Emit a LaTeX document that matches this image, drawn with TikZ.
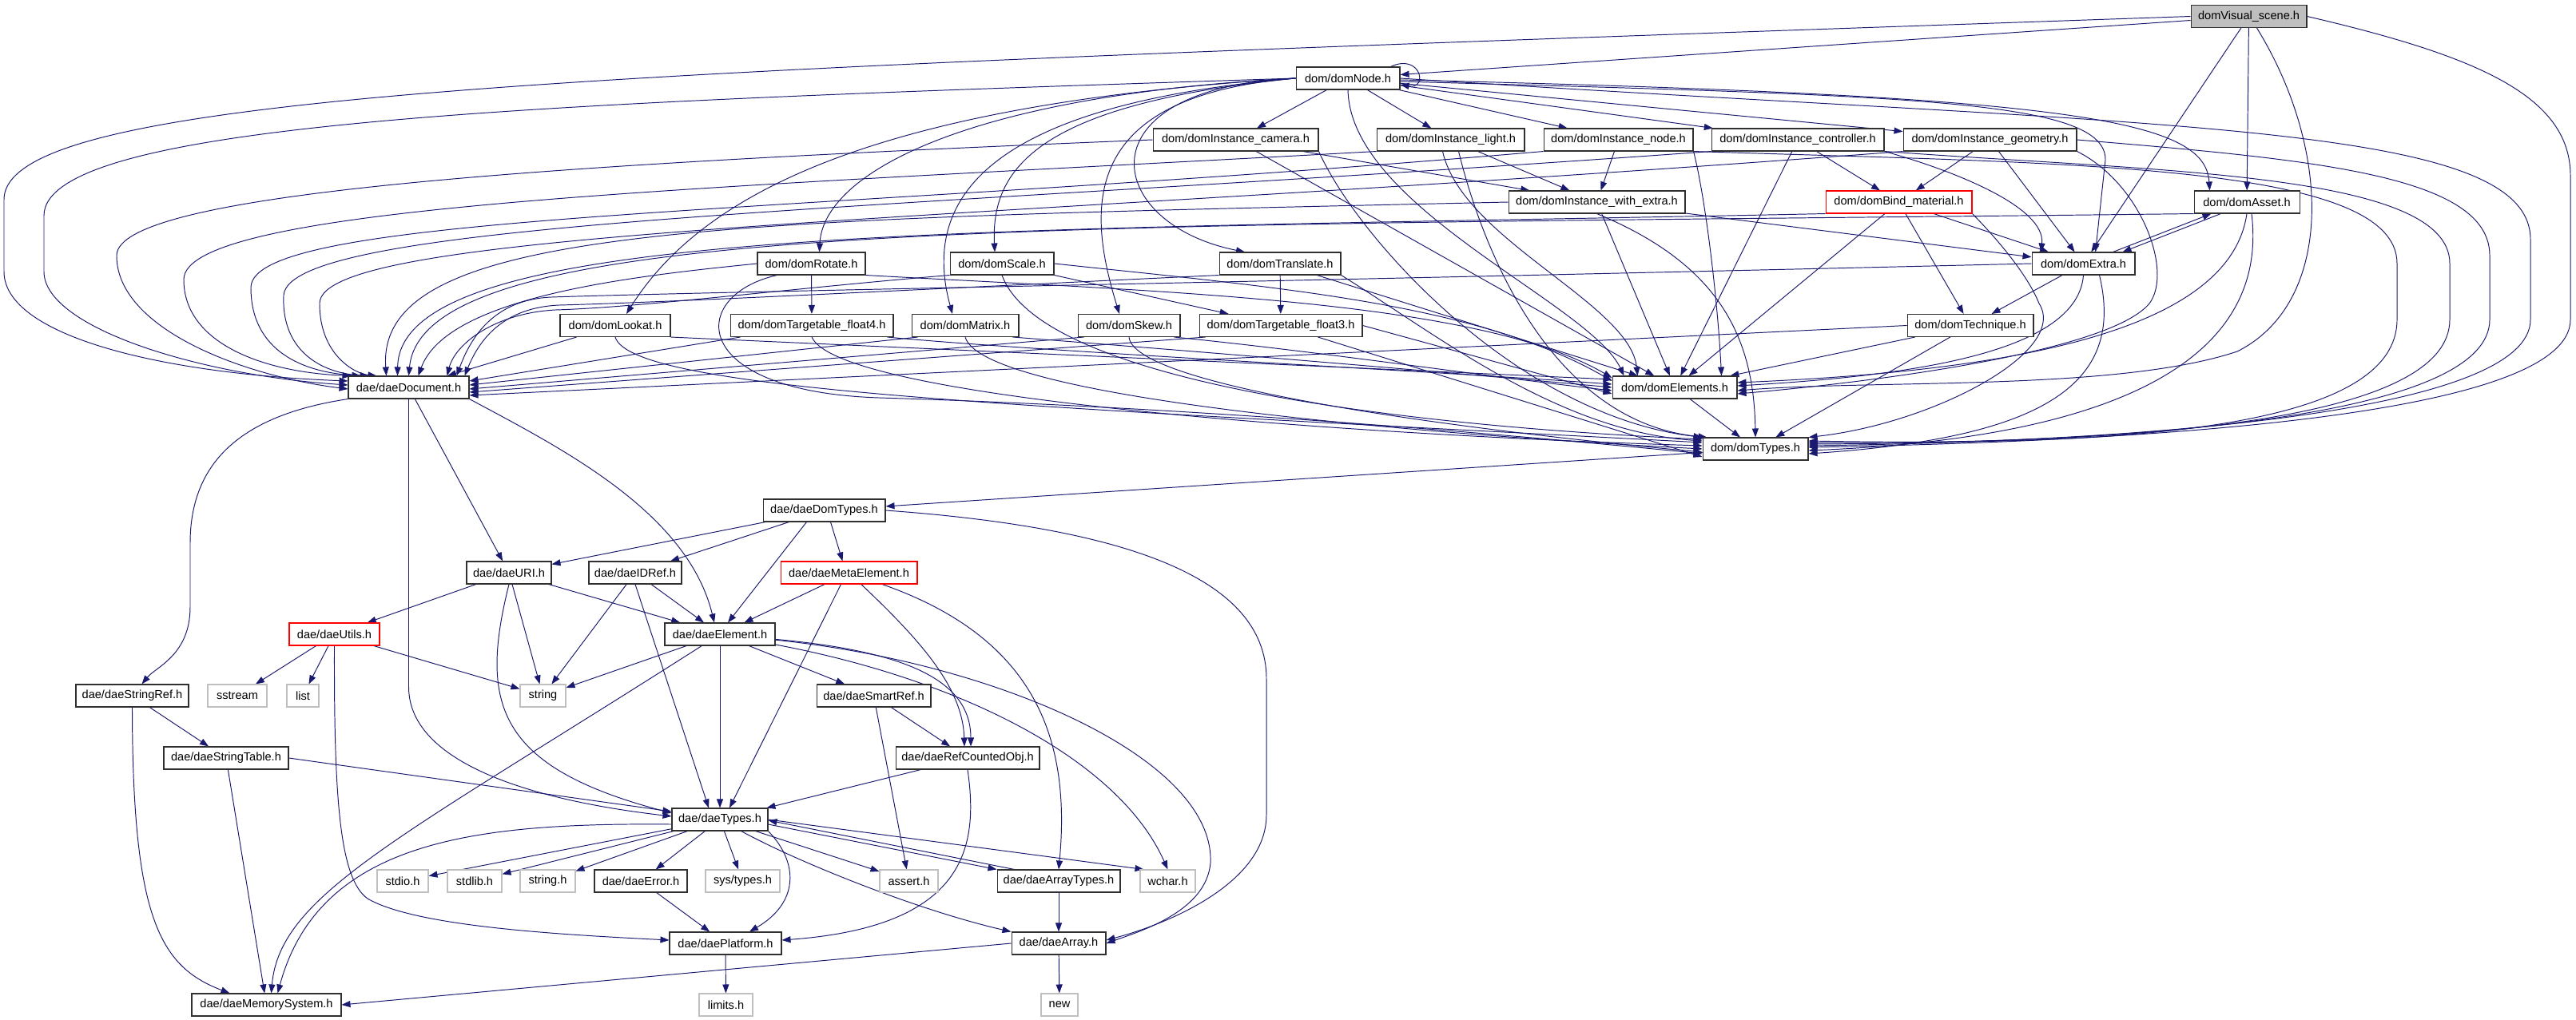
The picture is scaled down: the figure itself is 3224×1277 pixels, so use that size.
\documentclass[tikz,border=0pt]{standalone}
\usepackage{fontspec}
\setmainfont{Liberation Sans}
\usetikzlibrary{arrows.meta,calc}
\pgfdeclarelayer{back}
\pgfdeclarelayer{bg}
\pgfsetlayers{back,bg,main}
\definecolor{edgeblue}{HTML}{191970}
\definecolor{sysgray}{HTML}{BFBFBF}
\definecolor{vsfill}{HTML}{BFBFBF}
\definecolor{boxline}{HTML}{303030}
\begin{document}
\begin{tikzpicture}[x=0.02cm,y=-0.02cm,
  box/.style={draw=boxline,line width=0.6pt,fill=white,minimum height=0.56cm,inner sep=0pt,font=\fontsize{8.3}{10}\selectfont},
  redbox/.style={box,draw=red},
  sysbox/.style={box,draw=sysgray},
  edg/.style={draw=edgeblue,line width=0.55pt,-{Triangle[length=0.22cm,width=0.16cm]}}]
\useasboundingbox (0,0) rectangle (3224,1277);
\begin{pgfonlayer}{back}
\fill[white] (0,0) rectangle (3224,1277);
\end{pgfonlayer}
% ---------------- nodes ----------------
\node[box,fill=vsfill,minimum width=2.90cm] (VS) at (2814.5,20.5) {domVisual\_scene.h};
\node[box,minimum width=2.60cm] (Node) at (1687,98) {dom/domNode.h};
\node[box,minimum width=4.14cm] (ICam) at (1546.5,175) {dom/domInstance\_camera.h};
\node[box,minimum width=3.70cm] (ILight) at (1815.5,175) {dom/domInstance\_light.h};
\node[box,minimum width=3.74cm] (INode) at (2025.5,175) {dom/domInstance\_node.h};
\node[box,minimum width=4.32cm] (ICtrl) at (2250,175) {dom/domInstance\_controller.h};
\node[box,minimum width=4.34cm] (IGeom) at (2490.5,175) {dom/domInstance\_geometry.h};
\node[box,minimum width=4.42cm] (IWE) at (1998.5,253) {dom/domInstance\_with\_extra.h};
\node[redbox,minimum width=3.66cm] (BindMat) at (2376.5,253) {dom/domBind\_material.h};
\node[box,minimum width=2.64cm] (Asset) at (2812,253) {dom/domAsset.h};
\node[box,minimum width=2.70cm] (Rotate) at (1015.5,330) {dom/domRotate.h};
\node[box,minimum width=2.60cm] (Scale) at (1254,330) {dom/domScale.h};
\node[box,minimum width=3.04cm] (Translate) at (1602,330) {dom/domTranslate.h};
\node[box,minimum width=2.58cm] (Extra) at (2607.5,330) {dom/domExtra.h};
\node[box,minimum width=2.76cm] (Lookat) at (770,407.5) {dom/domLookat.h};
\node[box,minimum width=4.08cm] (TF4) at (1016,407.5) {dom/domTargetable\_float4.h};
\node[box,minimum width=2.68cm] (Matrix) at (1208,407.5) {dom/domMatrix.h};
\node[box,minimum width=2.56cm] (Skew) at (1413,407.5) {dom/domSkew.h};
\node[box,minimum width=4.08cm] (TF3) at (1603,407.5) {dom/domTargetable\_float3.h};
\node[box,minimum width=3.16cm] (Technique) at (2466,407.5) {dom/domTechnique.h};
\node[box,minimum width=3.02cm] (DaeDoc) at (511.5,485) {dae/daeDocument.h};
\node[box,minimum width=3.12cm] (Elements) at (2096,485) {dom/domElements.h};
\node[box,minimum width=2.64cm] (DomTypes) at (2197,562) {dom/domTypes.h};
\node[box,minimum width=3.06cm] (DaeDomTypes) at (1031.5,639) {dae/daeDomTypes.h};
\node[box,minimum width=2.12cm] (URI) at (637,717) {dae/daeURI.h};
\node[box,minimum width=2.32cm] (IDRef) at (795,717) {dae/daeIDRef.h};
\node[redbox,minimum width=3.42cm] (MetaElement) at (1062.5,717) {dae/daeMetaElement.h};
\node[redbox,minimum width=2.26cm] (Utils) at (418.5,794) {dae/daeUtils.h};
\node[box,minimum width=2.76cm] (Element) at (901,794) {dae/daeElement.h};
\node[box,minimum width=2.82cm] (StringRef) at (165.5,871) {dae/daeStringRef.h};
\node[sysbox,minimum width=1.48cm] (sstream) at (297,871) {sstream};
\node[sysbox,minimum width=0.80cm] (list) at (379,871) {list};
\node[sysbox,minimum width=1.14cm] (string) at (679.5,871) {string};
\node[box,minimum width=2.86cm] (SmartRef) at (1093.5,871) {dae/daeSmartRef.h};
\node[box,minimum width=3.12cm] (StringTable) at (283,949) {dae/daeStringTable.h};
\node[box,minimum width=3.60cm] (RefCounted) at (1211,949) {dae/daeRefCountedObj.h};
\node[box,minimum width=2.40cm] (DaeTypes) at (901,1026) {dae/daeTypes.h};
\node[sysbox,minimum width=1.28cm] (stdio) at (504,1103) {stdio.h};
\node[sysbox,minimum width=1.36cm] (stdlib) at (594,1103) {stdlib.h};
\node[sysbox,minimum width=1.38cm] (stringh) at (685.5,1103) {string.h};
\node[box,minimum width=2.32cm] (Error) at (802,1103) {dae/daeError.h};
\node[sysbox,minimum width=1.86cm] (systypes) at (929.5,1103) {sys/types.h};
\node[sysbox,minimum width=1.46cm] (assert) at (1137.5,1103) {assert.h};
\node[box,minimum width=3.08cm] (ArrayTypes) at (1325,1103) {dae/daeArrayTypes.h};
\node[sysbox,minimum width=1.38cm] (wchar) at (1461.5,1103) {wchar.h};
\node[box,minimum width=2.80cm] (Platform) at (908,1181) {dae/daePlatform.h};
\node[box,minimum width=2.36cm] (Array) at (1325,1181) {dae/daeArray.h};
\node[box,minimum width=3.74cm] (MemSys) at (333.5,1258) {dae/daeMemorySystem.h};
\node[sysbox,minimum width=1.34cm] (limits) at (908.5,1258) {limits.h};
\node[sysbox,minimum width=0.92cm] (new) at (1326,1258) {new};
% ---------------- edges ----------------
\begin{pgfonlayer}{bg}
% domVisual_scene.h
\draw[edg] (VS) -- (Node);
\draw[edg] (VS.west) .. controls (800,88) and (5,110) .. (5,250) -- (5,340) .. controls (5,420) and (200,468) .. ($(DaeDoc.west)+(0,-8)$);
\draw[edg] (VS) -- (Asset);
\draw[edg] (VS) -- (Extra);
\draw[edg] ($(VS.south)+(10,0)$) .. controls (2920,190) and (2920,380) .. (2800,440) .. controls (2650,490) and (2350,475) .. ($(Elements.east)+(0,4)$);
\draw[edg] (VS.east) .. controls (3100,70) and (3217,120) .. (3217,220) -- (3217,400) .. controls (3217,520) and (2700,552) .. ($(DomTypes.east)+(0,-2)$);
% domNode.h
\draw[edg] ($(Node.north east)+(-12,0)$) .. controls (1778,66) and (1788,112) .. ($(Node.east)+(0,8)$);
\draw[edg] (Node.west) .. controls (700,128) and (55,150) .. (55,270) -- (55,340) .. controls (55,410) and (250,470) .. ($(DaeDoc.west)+(0,-3)$);
\draw[edg] (Node) -- (ICam);
\draw[edg] (Node) -- (ILight);
\draw[edg] (Node) -- (INode);
\draw[edg] (Node) -- (ICtrl);
\draw[edg] (Node) -- (IGeom);
\draw[edg] ($(Node.east)+(0,2)$) .. controls (2600,120) and (2760,150) .. ($(Asset.north west)+(20,0)$);
\draw[edg] ($(Node.east)+(0,4)$) .. controls (2400,120) and (2635,125) .. (2635,200) -- ($(Extra.north)+(15,0)$);
\draw[edg] (Node.south) .. controls (1690,260) and (1990,380) .. ($(Elements.north west)+(15,0)$);
\draw[edg] (Node.east) .. controls (2700,160) and (3167,150) .. (3167,300) -- (3167,400) .. controls (3167,515) and (2700,552) .. ($(DomTypes.east)+(0,-4)$);
\draw[edg] (Node.west) .. controls (1100,130) and (880,240) .. ($(Lookat.north)+(14,0)$);
\draw[edg] (Node.west) .. controls (1200,120) and (1030,220) .. ($(Rotate.north)+(10,0)$);
\draw[edg] (Node.west) .. controls (1250,130) and (1150,240) .. ($(Matrix.north)+(-16,0)$);
\draw[edg] (Node.west) .. controls (1300,130) and (1240,210) .. ($(Scale.north)+(-9,0)$);
\draw[edg] (Node.west) .. controls (1350,120) and (1360,260) .. ($(Skew.north)+(-12,0)$);
\draw[edg] (Node.west) .. controls (1350,110) and (1380,280) .. ($(Translate.north)+(-44,0)$);
% domInstance_camera.h
\draw[edg] (ICam.west) .. controls (700,205) and (146,240) .. (146,320) .. controls (146,410) and (300,470) .. ($(DaeDoc.west)+(0,2)$);
\draw[edg] (ICam) -- (IWE);
\draw[edg] (ICam) -- (Elements);
\draw[edg] (ICam.south east) .. controls (1700,300) and (1900,520) .. (DomTypes.north west);
% domInstance_light.h
\draw[edg] (ILight.south west) .. controls (900,235) and (230,255) .. (230,350) .. controls (230,430) and (330,466) .. ($(DaeDoc.north west)+(4,0)$);
\draw[edg] (ILight) -- (IWE);
\draw[edg] ($(ILight.south)+(-10,0)$) .. controls (1830,300) and (2040,380) .. ($(Elements.north west)+(32,0)$);
\draw[edg] ($(ILight.south)+(10,0)$) .. controls (1860,330) and (1950,530) .. ($(DomTypes.north west)+(6,0)$);
% domInstance_node.h
\draw[edg] (INode.south west) .. controls (1000,270) and (314,265) .. (314,360) .. controls (314,440) and (380,466) .. ($(DaeDoc.north west)+(16,0)$);
\draw[edg] (INode) -- (IWE);
\draw[edg] (INode.south east) .. controls (2135,250) and (2150,380) .. ($(Elements.north east)+(-20,0)$);
\draw[edg] (INode.south east) .. controls (2600,205) and (3000,205) .. (3000,330) -- (3000,400) .. controls (3000,530) and (2700,560) .. ($(DomTypes.east)+(0,-10)$);
% domInstance_controller.h
\draw[edg] (ICtrl.south west) .. controls (1100,265) and (360,275) .. (355,370) .. controls (352,445) and (410,468) .. ($(DaeDoc.north west)+(26,0)$);
\draw[edg] (ICtrl) -- (BindMat);
\draw[edg] (ICtrl.south east) .. controls (2450,215) and (2560,260) .. ($(Extra.north west)+(12,0)$);
\draw[edg] (ICtrl) -- (Elements);
\draw[edg] (ICtrl.south east) .. controls (2700,215) and (3066,215) .. (3066,330) -- (3066,400) .. controls (3066,525) and (2700,556) .. ($(DomTypes.east)+(0,-8)$);
% domInstance_geometry.h
\draw[edg] (IGeom.south west) .. controls (1200,280) and (400,285) .. (400,380) .. controls (400,445) and (445,468) .. ($(DaeDoc.north west)+(36,0)$);
\draw[edg] (IGeom) -- (BindMat);
\draw[edg] (IGeom) -- (Extra);
\draw[edg] (IGeom.south east) .. controls (2680,230) and (2720,340) .. (2690,380) .. controls (2640,440) and (2350,478) .. ($(Elements.east)+(0,8)$);
\draw[edg] (IGeom.east) .. controls (2900,200) and (3116,220) .. (3116,320) -- (3116,400) .. controls (3116,520) and (2700,554) .. ($(DomTypes.east)+(0,-6)$);
% domInstance_with_extra.h
\draw[edg] (IWE.west) .. controls (900,275) and (470,280) .. ($(DaeDoc.north)+(-28,0)$);
\draw[edg] (IWE) -- (Extra);
\draw[edg] (IWE) -- (Elements);
\draw[edg] (IWE.south) .. controls (2150,330) and (2195,420) .. (DomTypes.north);
% domBind_material.h
\draw[edg] (BindMat.south west) .. controls (1200,290) and (500,280) .. ($(DaeDoc.north)+(-14,0)$);
\draw[edg] (BindMat) -- (Extra);
\draw[edg] (BindMat) -- (Technique);
\draw[edg] (BindMat) -- (Elements);
\draw[edg] (BindMat.south east) .. controls (2510,310) and (2540,350) .. (2552,380) .. controls (2590,440) and (2420,530) .. (DomTypes.north east);
% domAsset.h
\draw[edg] (Asset.south west) .. controls (1300,285) and (530,270) .. (DaeDoc.north);
\draw[edg] ($(Asset.south west)+(34,0)$) -- ($(Extra.north east)+(-16,0)$);
\draw[edg] (Asset.south) .. controls (2790,420) and (2500,465) .. ($(Elements.east)+(0,-6)$);
\draw[edg] ($(Asset.south)+(6,0)$) .. controls (2840,450) and (2650,548) .. ($(DomTypes.east)+(0,2)$);
% domExtra.h
\draw[edg] (Extra.west) .. controls (1500,355) and (900,365) .. (690,372) .. controls (620,375) and (590,420) .. ($(DaeDoc.north east)+(-16,0)$);
\draw[edg] ($(Extra.north east)+(-28,0)$) -- ($(Asset.south west)+(22,0)$);
\draw[edg] (Extra) -- (Technique);
\draw[edg] (Extra.south) .. controls (2600,440) and (2400,470) .. ($(Elements.east)+(0,-2)$);
\draw[edg] ($(Extra.south)+(20,0)$) .. controls (2660,480) and (2560,548) .. ($(DomTypes.east)+(0,6)$);
% domTechnique.h
\draw[edg] (Technique.west) -- ($(DaeDoc.east)+(0,10)$);
\draw[edg] (Technique) -- (Elements);
\draw[edg] (Technique) -- (DomTypes);
% domRotate.h
\draw[edg] (Rotate.west) .. controls (800,345) and (560,370) .. ($(DaeDoc.north)+(12,0)$);
\draw[edg] (Rotate) -- (TF4);
\draw[edg] (Rotate.south east) .. controls (1450,365) and (1850,375) .. ($(Elements.west)+(0,-12)$);
\draw[edg] ($(Rotate.south west)+(25,0)$) .. controls (860,370) and (860,490) .. (1100,498) .. controls (1500,510) and (1900,545) .. ($(DomTypes.west)+(0,6)$);
% domScale.h
\draw[edg] (Scale.south west) .. controls (1000,360) and (800,385) .. (695,388) .. controls (620,392) and (570,430) .. ($(DaeDoc.north east)+(-28,0)$);
\draw[edg] (Scale) -- (TF3);
\draw[edg] (Scale.east) .. controls (1600,360) and (1850,380) .. ($(Elements.west)+(0,-8)$);
\draw[edg] (Scale.south) .. controls (1300,470) and (1700,530) .. ($(DomTypes.west)+(0,-12)$);
% domTranslate.h
\draw[edg] (Translate.south west) .. controls (1200,360) and (850,378) .. (700,382) .. controls (630,385) and (600,425) .. ($(DaeDoc.north east)+(-6,0)$);
\draw[edg] (Translate) -- (TF3);
\draw[edg] (Translate) -- (Elements);
\draw[edg] (Translate.south east) .. controls (1800,420) and (1950,540) .. ($(DomTypes.west)+(0,-10)$);
% domLookat.h
\draw[edg] (Lookat) -- (DaeDoc);
\draw[edg] (Lookat.south east) -- ($(Elements.west)+(0,-10)$);
\draw[edg] (Lookat.south) .. controls (790,490) and (1300,510) .. ($(DomTypes.west)+(0,-8)$);
% domTargetable_float4.h
\draw[edg] (TF4) -- ($(DaeDoc.east)+(0,-8)$);
\draw[edg] ($(TF4.south east)+(-8,0)$) .. controls (1300,440) and (1800,465) .. ($(Elements.west)+(0,-4)$);
\draw[edg] (TF4.south) .. controls (1050,500) and (1700,545) .. ($(DomTypes.west)+(0,-4)$);
% domMatrix.h
\draw[edg] ($(Matrix.south west)+(8,0)$) -- ($(DaeDoc.east)+(0,-3)$);
\draw[edg] ($(Matrix.south east)+(-8,0)$) .. controls (1500,440) and (1800,465) .. (Elements.west);
\draw[edg] (Matrix.south) .. controls (1230,500) and (1800,545) .. (DomTypes.west);
% domSkew.h
\draw[edg] ($(Skew.south west)+(8,0)$) -- ($(DaeDoc.east)+(0,2)$);
\draw[edg] ($(Skew.south east)+(-8,0)$) .. controls (1650,440) and (1850,470) .. ($(Elements.west)+(0,4)$);
\draw[edg] (Skew.south) .. controls (1420,490) and (1900,545) .. ($(DomTypes.west)+(0,4)$);
% domTargetable_float3.h
\draw[edg] ($(TF3.south west)+(8,0)$) -- ($(DaeDoc.east)+(0,6)$);
\draw[edg] (TF3.east) -- ($(Elements.west)+(0,8)$);
\draw[edg] (TF3) -- ($(DomTypes.west)+(0,10)$);
% domElements.h, domTypes.h
\draw[edg] (Elements) -- (DomTypes);
\draw[edg] (DomTypes) -- (DaeDomTypes);
% daeDomTypes.h
\draw[edg] (DaeDomTypes) -- (URI);
\draw[edg] (DaeDomTypes) -- (IDRef);
\draw[edg] ($(DaeDomTypes.south)+(-22,0)$) -- ($(Element.north)+(10,0)$);
\draw[edg] ($(DaeDomTypes.south)+(8,0)$) -- ($(MetaElement.north)+(-8,0)$);
\draw[edg] (DaeDomTypes.east) .. controls (1400,660) and (1585,720) .. (1585,850) -- (1585,1020) .. controls (1585,1110) and (1450,1160) .. ($(Array.east)+(0,-4)$);
% daeDocument.h
\draw[edg] (DaeDoc.south west) .. controls (300,520) and (238,580) .. (238,680) -- (238,760) .. controls (238,820) and (195,835) .. ($(StringRef.north)+(12,0)$);
\draw[edg] (DaeDoc.south) -- (511.5,860) .. controls (511.5,950) and (650,1000) .. ($(DaeTypes.west)+(0,-4)$);
\draw[edg] (DaeDoc) -- (URI);
\draw[edg] (DaeDoc.south east) .. controls (700,560) and (860,640) .. ($(Element.north)+(-7,0)$);
% daeURI.h
\draw[edg] (URI) -- (Utils);
\draw[edg] (URI) -- (string);
\draw[edg] (URI.south) .. controls (600,880) and (620,960) .. ($(DaeTypes.west)+(0,-8)$);
\draw[edg] (URI) -- (Element);
% daeIDRef.h
\draw[edg] (IDRef) -- (Element);
\draw[edg] (IDRef) -- (string);
\draw[edg] (IDRef.south) -- ($(DaeTypes.north)+(-14,0)$);
% daeMetaElement.h
\draw[edg] (MetaElement) -- (Element);
\draw[edg] ($(MetaElement.south)+(-10,0)$) -- ($(DaeTypes.north)+(12,0)$);
\draw[edg] (MetaElement) .. controls (1150,800) and (1205,860) .. ($(RefCounted.north)+(-4,0)$);
\draw[edg] (MetaElement) .. controls (1300,800) and (1340,930) .. (ArrayTypes.north);
% daeUtils.h
\draw[edg] (Utils) -- (sstream);
\draw[edg] (Utils) -- (list);
\draw[edg] (Utils) -- (string);
\draw[edg] (Utils.south) .. controls (418,1000) and (425,1100) .. (460,1125) .. controls (520,1160) and (700,1170) .. ($(Platform.west)+(0,-4)$);
% daeElement.h
\draw[edg] (Element) -- (string);
\draw[edg] (Element) .. controls (500,1050) and (350,1120) .. ($(MemSys.north)+(6,0)$);
\draw[edg] (Element) -- (DaeTypes);
\draw[edg] (Element) -- (SmartRef);
\draw[edg] (Element) .. controls (1130,815) and (1215,850) .. ($(RefCounted.north)+(4,0)$);
\draw[edg] (Element) .. controls (1200,850) and (1400,950) .. (wchar.north);
\draw[edg] (Element) .. controls (1250,830) and (1520,950) .. (1515,1080) .. controls (1510,1140) and (1430,1165) .. (Array.east);
% daeStringRef.h, daeStringTable.h
\draw[edg] (StringRef) -- (StringTable);
\draw[edg] (StringRef.south) .. controls (166,1150) and (200,1210) .. ($(MemSys.north west)+(48,0)$);
\draw[edg] (StringTable) -- (MemSys);
\draw[edg] (StringTable.east) -- ($(DaeTypes.west)+(0,-10)$);
% daeSmartRef.h, daeRefCountedObj.h
\draw[edg] (SmartRef) -- (assert);
\draw[edg] (SmartRef) -- (RefCounted);
\draw[edg] (RefCounted) -- (DaeTypes);
\draw[edg] (RefCounted.south) .. controls (1225,1060) and (1210,1160) .. ($(Platform.east)+(0,-4)$);
% daeTypes.h
\draw[edg] (DaeTypes) -- (stdio);
\draw[edg] (DaeTypes) -- (stdlib);
\draw[edg] (DaeTypes) -- (stringh);
\draw[edg] (DaeTypes) -- (Error);
\draw[edg] (DaeTypes) -- (systypes);
\draw[edg] (DaeTypes) -- (assert);
\draw[edg] ($(DaeTypes.east)+(0,6)$) -- (ArrayTypes.north west);
\draw[edg] ($(ArrayTypes.north west)+(22,0)$) -- ($(DaeTypes.east)+(0,1)$);
\draw[edg] (DaeTypes.east) -- ($(wchar.north west)+(5,0)$);
\draw[edg] (DaeTypes.south east) .. controls (1000,1080) and (1000,1130) .. ($(Platform.north)+(30,0)$);
\draw[edg] (DaeTypes) .. controls (1000,1080) and (1150,1140) .. (Array.north west);
\draw[edg] ($(DaeTypes.west)+(0,6)$) .. controls (600,1030) and (400,1050) .. ($(MemSys.north)+(14,0)$);
% remaining
\draw[edg] (Error) -- (Platform);
\draw[edg] (ArrayTypes) -- (Array);
\draw[edg] (Platform) -- (limits);
\draw[edg] (Array) -- (new);
\draw[edg] (Array.west) -- (MemSys.east);
\end{pgfonlayer}
\end{tikzpicture}
\end{document}
